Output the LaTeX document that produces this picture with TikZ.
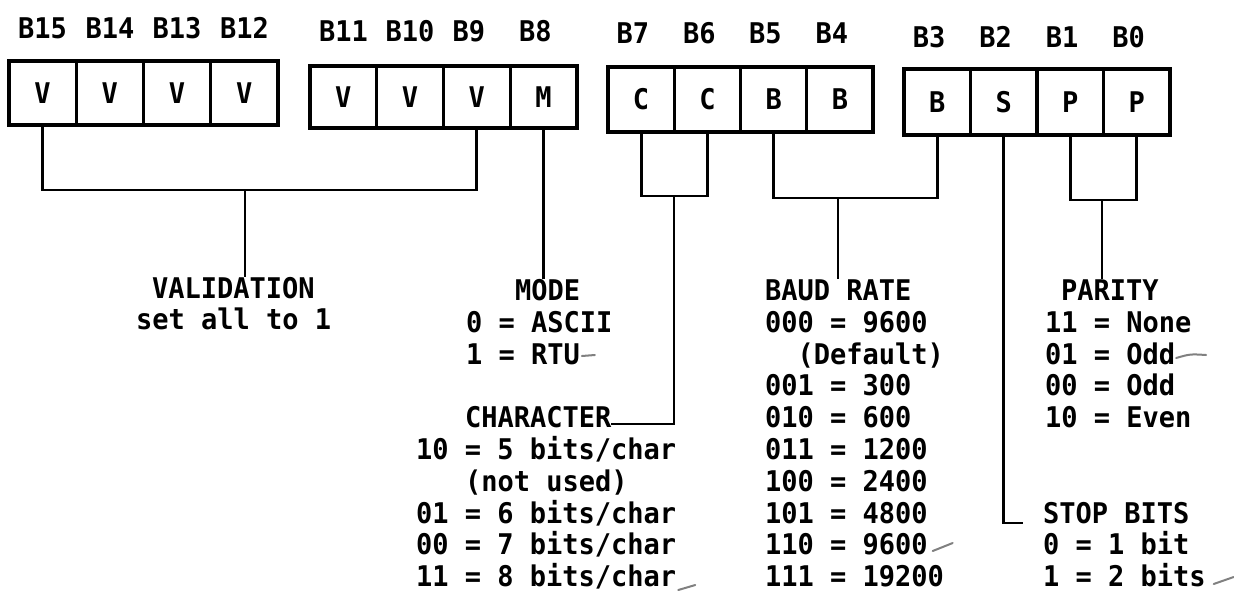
\documentclass[tikz,border=0pt]{standalone}
\usepackage{fontspec}
\newfontfamily\monofont{DejaVu Sans Mono}[FakeStretch=0.948]
\tikzset{
  every node/.style={inner sep=0pt, outer sep=0pt},
  txt/.style={anchor=base west, font=\monofont\bfseries\fontsize{28.5}{32}\selectfont, text height=20.8pt, text depth=0pt},
  cellbox/.style={draw, line width=3.2pt, anchor=center, font=\monofont\bfseries\fontsize{28.5}{32}\selectfont, text height=20.8pt, text depth=0pt},
  wire/.style={line width=2.9pt},
  tick/.style={line width=2pt, black!50, line cap=round},
}
\newcommand\bitcell[6]{%
  \node[cellbox, minimum width={#3-#2}, minimum height={#5-#4}] (#1) at ({(#2+#3)/2},{(#4+#5)/2}) {#6};}
\newcommand\putline[4]{\node[txt] (#1) at (#2,#3) {#4};}
\begin{document}
\begin{tikzpicture}[x=1pt,y=-1pt]
\useasboundingbox (0,0) rectangle (1234,598);
% ---- header labels
\putline{h15}{18.2}{38}{B15}
\putline{h14}{85.5}{38}{B14}
\putline{h13}{152.7}{38}{B13}
\putline{h12}{220.0}{38}{B12}
\putline{h11}{319.0}{41}{B11}
\putline{h10}{385.7}{41}{B10}
\putline{h9}{452.5}{41}{B9}
\putline{h8}{519.2}{41}{B8}
\putline{h7}{616.7}{43}{B7}
\putline{h6}{683.0}{43}{B6}
\putline{h5}{749.2}{43}{B5}
\putline{h4}{815.5}{43}{B4}
\putline{h3}{912.85}{47}{B3}
\putline{h2}{979.35}{47}{B2}
\putline{h1}{1045.85}{47}{B1}
\putline{h0}{1112.35}{47}{B0}
% ---- bit cells
\bitcell{c15}{9}{76.25}{61}{125}{V}
\bitcell{c14}{76.25}{143.5}{61}{125}{V}
\bitcell{c13}{143.5}{210.75}{61}{125}{V}
\bitcell{c12}{210.75}{278}{61}{125}{V}
\bitcell{c11}{310}{376.75}{66}{128}{V}
\bitcell{c10}{376.75}{443.5}{66}{128}{V}
\bitcell{c9}{443.5}{510.25}{66}{128}{V}
\bitcell{c8}{510.25}{577}{66}{128}{M}
\bitcell{c7}{608}{674.25}{67}{132}{C}
\bitcell{c6}{674.25}{740.5}{67}{132}{C}
\bitcell{c5}{740.5}{806.75}{67}{132}{B}
\bitcell{c4}{806.75}{873}{67}{132}{B}
\bitcell{c3}{904}{970.5}{69}{135}{B}
\bitcell{c2}{970.5}{1037}{69}{135}{S}
\bitcell{c1}{1037}{1103.5}{69}{135}{P}
\bitcell{c0}{1103.5}{1170}{69}{135}{P}
% ---- validation
\putline{val}{152}{298}{VALIDATION}
\putline{val2}{136}{329}{set all to 1}
% ---- mode
\putline{mode}{515}{300}{MODE}
\putline{mode1}{466}{332}{0 = ASCII}
\putline{mode2}{466}{364}{1 = RTU}
% ---- character
\putline{chr}{465}{427}{CHARACTER}
\putline{chr1}{416}{459}{10 = 5 bits/char}
\putline{chr2}{465}{491}{(not used)}
\putline{chr3}{416}{523}{01 = 6 bits/char}
\putline{chr4}{416}{554}{00 = 7 bits/char}
\putline{chr5}{416}{586}{11 = 8 bits/char}
% ---- baud rate
\putline{baud}{765}{300}{BAUD RATE}
\putline{baud1}{765}{332}{000 = 9600}
\putline{baud2}{797.5}{364}{(Default)}
\putline{baud3}{765}{395}{001 = 300}
\putline{baud4}{765}{427}{010 = 600}
\putline{baud5}{765}{459}{011 = 1200}
\putline{baud6}{765}{491}{100 = 2400}
\putline{baud7}{765}{523}{101 = 4800}
\putline{baud8}{765}{554}{110 = 9600}
\putline{baud9}{765}{586}{111 = 19200}
% ---- parity
\putline{par}{1061}{300}{PARITY}
\putline{par1}{1045}{332}{11 = None}
\putline{par2}{1045}{364}{01 = Odd}
\putline{par3}{1045}{395}{00 = Odd}
\putline{par4}{1045}{427}{10 = Even}
% ---- stop bits
\putline{stp}{1043}{523}{STOP BITS}
\putline{stp1}{1043}{554}{0 = 1 bit}
\putline{stp2}{1043}{586}{1 = 2 bits}
% ---- junction coordinates
\coordinate (vj) at (245,190);
\coordinate (cj) at (674,196);
\coordinate (bj) at (838,198);
\coordinate (pj) at (1102,200);
\coordinate (sj) at (1023,523);
% ---- connectors
\draw[wire] (c15.south) |- (vj) -| (c9.south);
\draw[wire] (vj) -- (vj |- val.north);
\draw[wire] (c8.south) -- (c8.south |- mode.north);
\draw[wire] (c7.south) |- (cj) -| (c6.south);
\draw[wire] (cj) |- ([yshift=3pt]chr.base east);
\draw[wire] (c5.south) |- (bj) -| (c3.south);
\draw[wire] (bj) -- (bj |- baud.north);
\draw[wire] (c2.south) |- (sj);
\draw[wire] (c1.south) |- (pj) -| (c0.south);
\draw[wire] (pj) -- (pj |- par.north);
% ---- hand-made check marks
\draw[tick] ([xshift=2pt,yshift=8pt]mode2.base east) -- ++(13,-1);
\draw[tick] ([xshift=1pt,yshift=6pt]par2.base east) .. controls +(14,-4) .. +(30,-3);
\draw[tick] ([xshift=5pt,yshift=3pt]baud8.base east) -- ++(20,-8);
\draw[tick] ([xshift=8pt,yshift=2pt]stp2.base east) -- ++(20,-7);
\draw[tick] ([xshift=2pt,yshift=-4pt]chr5.base east) -- ++(17,-5);
\end{tikzpicture}
\end{document}
